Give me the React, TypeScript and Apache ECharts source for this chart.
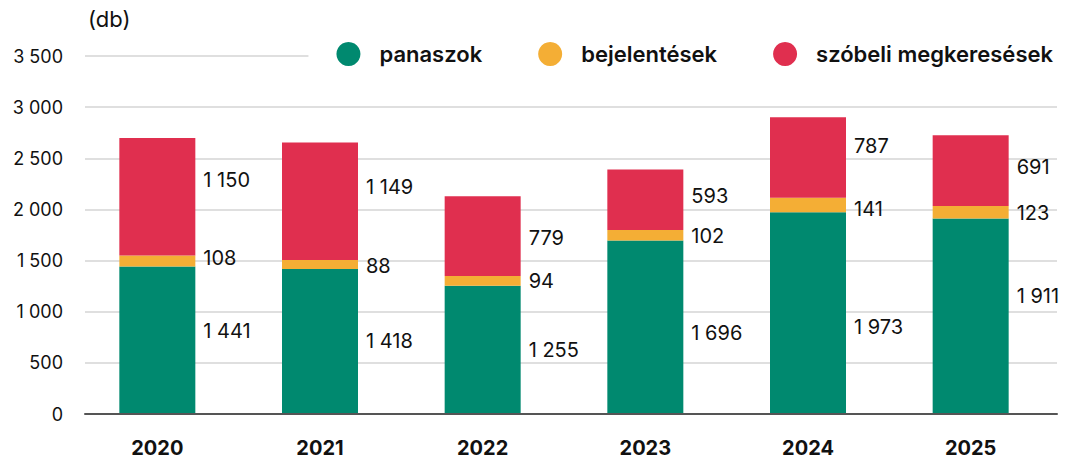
import React, { useEffect, useRef } from "react";
import * as echarts from "echarts";

const years = ["2020", "2021", "2022", "2023", "2024", "2025"];
const panaszok = [1441, 1418, 1255, 1696, 1973, 1911];
const bejelentesek = [108, 88, 94, 102, 141, 123];
const szobeli = [1150, 1149, 779, 593, 787, 691];
const yTicks = { min: 0, max: 3500, interval: 500 };

// small vertical nudges of the value labels (px), as in the reference
const offGreen = [-9, 0, 0, 6, 14, -20];
const offOrange = [-3, 2, 0, 1, 4, 1];
const offRed = [-17, -14, 2, -4, -12, -4];

const FONT = "Inter, 'Noto Sans', sans-serif";
const fmt = (v: number) => String(v).replace(/\B(?=(\d{3})+(?!\d))/g, " ");

export default function App() {
  const ref = useRef<HTMLDivElement>(null);
  useEffect(() => {
    document.body.style.margin = "0";
    if (!ref.current) return;
    const chart = echarts.init(ref.current, undefined, { renderer: "svg" });
    const mk = (name: string, vals: number[], offs: number[], color: string) => ({
      name,
      type: "bar",
      stack: "total",
      xAxisIndex: 1,
      yAxisIndex: 1,
      barWidth: 76,
      itemStyle: { color },
      data: vals.map((v, i) => ({
        value: v,
        label: { offset: [0, offs[i]] },
      })),
      label: {
        show: true,
        position: "right",
        distance: 8,
        color: "#111",
        fontSize: 20,
        fontFamily: FONT,
        formatter: (p: any) => fmt(p.value),
      },
    });
    chart.setOption({
      animation: false,
      backgroundColor: "#fff",
      textStyle: { fontFamily: FONT },
      grid: [
        { left: 85, right: 12, top: 56, bottom: 45 },
        { left: 76, right: 17, top: 56, bottom: 45 },
      ],
      graphic: [
        {
          type: "text",
          left: 88,
          top: 8,
          style: { text: "(db)", fontSize: 22, fill: "#111", fontFamily: FONT },
        },
      ],
      legend: {
        right: 10,
        top: 36,
        icon: "circle",
        itemWidth: 24,
        itemHeight: 24,
        itemGap: 56,
        padding: [6, 6, 6, 28],
        backgroundColor: "#fff",
        z: 10,
        textStyle: {
          fontSize: 22,
          fontWeight: 600,
          color: "#111",
          fontFamily: FONT,
          padding: [0, 0, 0, 14],
        },
        data: ["panaszok", "bejelentések", "szóbeli megkeresések"],
      },
      xAxis: [
        {
          type: "category",
          gridIndex: 0,
          data: years,
          z: 5,
          axisLine: { show: true, lineStyle: { color: "#555", width: 2 } },
          axisTick: { show: false },
          axisLabel: { show: false },
        },
        {
          type: "category",
          gridIndex: 1,
          data: years,
          axisLine: { show: false },
          axisTick: { show: false },
          axisLabel: {
            margin: 24,
            fontSize: 20,
            fontWeight: 700,
            color: "#111",
            fontFamily: FONT,
          },
        },
      ],
      yAxis: [
        {
          type: "value",
          gridIndex: 0,
          ...yTicks,
          axisLine: { show: false },
          axisTick: { show: false },
          splitLine: { lineStyle: { color: "#d4d4d4", width: 1.5 } },
          axisLabel: {
            margin: 22,
            fontSize: 18,
            color: "#111",
            fontFamily: FONT,
            formatter: (v: number) => fmt(v),
          },
        },
        {
          type: "value",
          gridIndex: 1,
          ...yTicks,
          show: false,
          splitLine: { show: false },
        },
      ],
      series: [
        mk("panaszok", panaszok, offGreen, "#00896f"),
        mk("bejelentések", bejelentesek, offOrange, "#f4ae35"),
        mk("szóbeli megkeresések", szobeli, offRed, "#e02f4f"),
      ],
    });
    return () => chart.dispose();
  }, []);
  return <div ref={ref} style={{ width: 1069, height: 459 }} />;
}
